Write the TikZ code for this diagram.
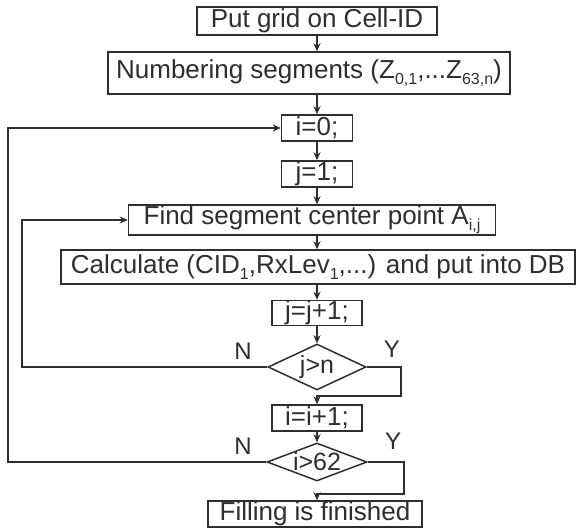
\documentclass[tikz,border=0pt]{standalone}
\usepackage{fontspec}
\setmainfont{Liberation Sans}
\usetikzlibrary{shapes.geometric,arrows.meta}
\definecolor{ink}{HTML}{2E2E2E}
\newcommand{\lowsub}[1]{\raisebox{-0.42ex}{\fontsize{16}{16}\selectfont #1}}
\begin{document}
\begin{tikzpicture}[x=1pt,y=-1pt,
  box/.style={draw=ink, line width=1.5pt, text=ink, inner sep=0pt,
    font=\fontsize{26}{30}\selectfont},
  dia/.style={draw=ink, line width=1.5pt, diamond, inner sep=0pt},
  dtext/.style={text=ink, inner sep=0pt, font=\fontsize{25}{30}\selectfont},
  lbl/.style={text=ink, inner sep=0pt, font=\fontsize{24}{28}\selectfont},
  line/.style={draw=ink, line width=1.5pt},
  arr/.style={line, -{Stealth[length=8pt,width=7pt]}}]
\useasboundingbox (0,0) rectangle (576,529);
\node[box, minimum width=240pt, minimum height=28pt] (b1) at (317,21) {Put grid on Cell-ID};
\node[box, minimum width=402pt, minimum height=42pt] (b2) at (309,73) {Numbering segments (Z\lowsub{0,1},...Z\lowsub{63,n})};
\node[box, minimum width=71pt, minimum height=26pt] (b3) at (317,128) {i=0;};
\node[box, minimum width=71pt, minimum height=26pt] (b4) at (317,174) {j=1;};
\node[box, minimum width=367pt, minimum height=30pt] (b5) at (312,220) {Find segment center point A\lowsub{i,j}};
\node[box, minimum width=514pt, minimum height=34pt] (b6) at (318,267) {Calculate (CID\lowsub{1},RxLev\lowsub{1},...) and put into DB};
\node[box, minimum width=90pt, minimum height=25pt] (b7) at (317,313) {j=j+1;};
\node[dia, minimum width=98pt, minimum height=46pt] (d1) at (317,367) {};
\node[dtext] (d1t) at (d1.center) {j>n};
\node[box, minimum width=90pt, minimum height=26pt] (b8) at (317,418) {i=i+1;};
\node[dia, minimum width=100pt, minimum height=38pt] (d2) at (317,462) {};
\node[dtext] (d2t) at (d2.center) {i>62};
\node[box, minimum width=214pt, minimum height=26pt] (b9) at (315,514) {Filling is finished};
\node[lbl] (n1) at (243,351) {N};
\node[lbl] (y1l) at (392,349) {Y};
\node[lbl] (n2) at (243,446) {N};
\node[lbl] (y2l) at (393,441) {Y};
\coordinate (col) at (317,0);
\coordinate (outer) at (8,0);
\coordinate (inner) at (22,0);
\coordinate (yj1) at (401,396);
\coordinate (yj2) at (404,494);
\draw[arr] (b1.south -| col) -- (b2.north -| col);
\draw[arr] (b2.south -| col) -- (b3.north -| col);
\draw[arr] (b3.south -| col) -- (b4.north -| col);
\draw[arr] (b4.south -| col) -- (b5.north -| col);
\draw[arr] (b5.south -| col) -- (b6.north -| col);
\draw[arr] (b6.south -| col) -- (b7.north -| col);
\draw[arr] (b7.south -| col) -- (d1.north);
\draw[arr] (d1.east) -| (yj1) -- (yj1 -| col) -- (b8.north -| col);
\draw[arr] (d1.west) -- (d1.west -| inner) -- (inner |- b5.west) -- (b5.west);
\draw[arr] (b8.south -| col) -- (d2.north);
\draw[arr] (d2.east) -| (yj2) -- (yj2 -| col) -- (b9.north -| col);
\draw[arr] (d2.west) -- (d2.west -| outer) -- (outer |- b3.west) -- (b3.west);
\end{tikzpicture}
\end{document}
